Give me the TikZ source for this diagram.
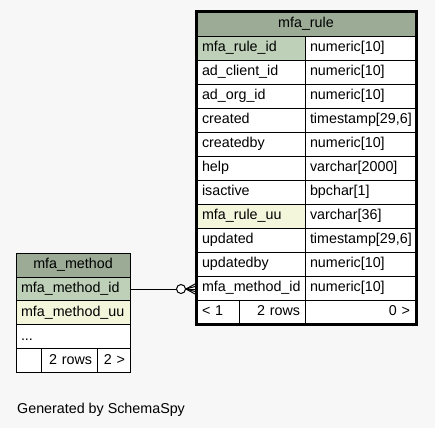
\documentclass[tikz,border=0pt]{standalone}
\usepackage{fontspec}
\setmainfont{Liberation Sans}
\usetikzlibrary{calc}
\definecolor{bg}{HTML}{F7F7F7}
\definecolor{headc}{HTML}{9BAB96}
\definecolor{pkc}{HTML}{BED1B8}
\definecolor{uuc}{HTML}{F4F6DC}
\begin{document}
\begin{tikzpicture}[x=1pt,y=-1pt,
  cellbox/.style={draw=black, line width=0.8pt, fill=white, inner xsep=5pt, inner ysep=0pt, outer sep=0pt,
    anchor=north west, minimum height=24pt, text height=10pt, text depth=3pt,
    font=\fontsize{14.3pt}{16pt}\selectfont},
  rname/.style={cellbox, text width=98pt, align=left},
  rtype/.style={cellbox, text width=100pt, align=left},
  mname/.style={cellbox, text width=104pt, align=left},
  headbox/.style={cellbox, fill=headc, align=center},
  conn/.style={line width=1pt, draw=black}
]
\useasboundingbox (0,0) rectangle (435,428);
\fill[bg] (0,0) rectangle (435,428);

% ---- mfa_rule table ----
\node[headbox, text width=208pt, minimum height=23.5pt] (rh) at (197,12.5) {mfa\_rule};
\foreach \n/\t/\c [count=\i from 0] in {
  mfa\_rule\_id/numeric[10]/pkc,
  ad\_client\_id/numeric[10]/white,
  ad\_org\_id/numeric[10]/white,
  created/{timestamp[29,6]}/white,
  createdby/numeric[10]/white,
  help/varchar[2000]/white,
  isactive/bpchar[1]/white,
  mfa\_rule\_uu/varchar[36]/uuc,
  updated/{timestamp[29,6]}/white,
  updatedby/numeric[10]/white,
  mfa\_method\_id/numeric[10]/white}{
  \node[rname, fill=\c] (rn\i) at (197,{36+24*\i}) {\n};
  \node[rtype] (rt\i) at (305,{36+24*\i}) {\t};
}
\node[cellbox, text width=32pt, align=left] (rf1) at (197,300) {< 1};
\node[cellbox, text width=56pt, align=right] (rf2) at (239,300) {2 rows};
\node[cellbox, text width=100pt, align=right] (rf3) at (305,300) {0 >};
\draw[line width=3pt] ($(rh.north west)+(-0.5,-0.5)$) rectangle ($(rf3.south east)+(1,0.5)$);

% ---- mfa_method table ----
\node[headbox, text width=104pt] (mh) at (16,253) {mfa\_method};
\node[mname, fill=pkc] (m1) at (16,277) {mfa\_method\_id};
\node[mname, fill=uuc] (m2) at (16,300.5) {mfa\_method\_uu};
\node[mname] (m3) at (16,324.5) {...};
\node[cellbox, text width=15pt, align=left] (mf1) at (16,348.5) {};
\node[cellbox, text width=46pt, align=right] (mf2) at (41,348.5) {2 rows};
\node[cellbox, text width=23pt, align=right] (mf3) at (97,348.5) {2 >};

% ---- connector ----
\coordinate (ce) at ($(m1.east -| rn10.west)+(-2,0)$);
\coordinate (cc) at ($(ce)+(-14,0)$);
\coordinate (cf) at ($(ce)+(-9,0)$);
\draw[conn] (m1.east) -- (ce);
\draw[conn] (cf) -- ($(ce)+(0,-5)$);
\draw[conn] (cf) -- ($(ce)+(0,5)$);
\draw[conn] (cf) -- ($(ce)+(0,-2.5)$);
\draw[conn] (cf) -- ($(ce)+(0,2.5)$);
\draw[conn, fill=white] (cc) circle (4.5pt);

\node[anchor=base west, inner sep=0pt, font=\fontsize{14.3pt}{16pt}\selectfont] (gen) at (17,413) {Generated by SchemaSpy};
\end{tikzpicture}
\end{document}
